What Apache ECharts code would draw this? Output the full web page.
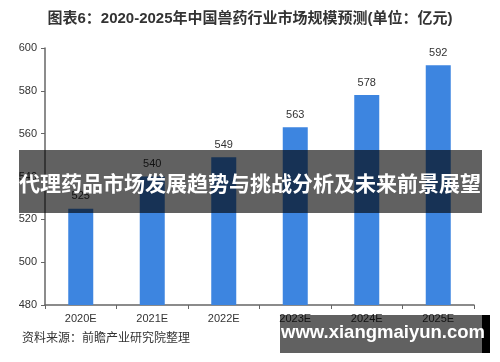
<!DOCTYPE html>
<html><head><meta charset="utf-8">
<script src="https://cdn.jsdelivr.net/npm/echarts@6/dist/echarts.min.js"></script>
<style>html,body{margin:0;padding:0;background:#fff}#c{width:500px;height:362px}</style>
</head><body><div id="c"></div>
<script>
const categories = ['2020E','2021E','2022E','2023E','2024E','2025E'];
const values = [525, 540, 549, 563, 578, 592];
const yTicks = {min: 480, max: 600, interval: 20};
const titleText = '图表6：2020-2025年中国兽药行业市场规模预测(单位：亿元)';
const sourceText = '资料来源：前瞻产业研究院整理';
const bannerText = '代理药品市场发展趋势与挑战分析及未来前景展望';
const siteText = 'www.xiangmaiyun.com';

const chart = echarts.init(document.getElementById('c'));
const FONT = '"Liberation Sans", Arial, "Noto Sans CJK SC", sans-serif';
chart.setOption({
  animation: false,
  backgroundColor: '#fff',
  textStyle: {fontFamily: FONT},
  title: {
    text: titleText, left: 'center', top: 6,
    textStyle: {fontSize: 15, fontWeight: 'bold', color: '#333', fontFamily: FONT}
  },
  grid: {left: 45, right: 26, top: 48, bottom: 57},
  xAxis: {
    type: 'category', data: categories,
    axisLine: {lineStyle: {color: '#666', width: 1.5}},
    axisTick: {show: true, lineStyle: {color: '#666'}, length: 4},
    axisLabel: {color: '#333', fontSize: 11, margin: 8}
  },
  yAxis: {
    type: 'value', min: yTicks.min, max: yTicks.max, interval: yTicks.interval,
    axisLine: {show: true, lineStyle: {color: '#666', width: 1.5}},
    axisTick: {show: true, lineStyle: {color: '#666'}, length: 4},
    splitLine: {show: false},
    axisLabel: {color: '#333', fontSize: 11, margin: 8}
  },
  series: [{
    type: 'bar', data: values, barWidth: 25,
    itemStyle: {color: '#3d85e0'},
    label: {show: true, position: 'top', color: '#333', fontSize: 11, distance: 7}
  }],
  graphic: [
    {type: 'text', left: 22, top: 333, z: 50,
     style: {text: sourceText, fontSize: 12, fill: '#333', fontFamily: FONT}},
    {type: 'rect', z: 100, shape: {x: 19, y: 150, width: 463, height: 63},
     style: {fill: 'rgba(0,0,0,0.62)'}},
    {type: 'text', z: 101, x: 250, y: 183,
     style: {text: bannerText, fontSize: 21, fontWeight: 'bold', fill: '#fff',
             align: 'center', verticalAlign: 'middle', fontFamily: '"Noto Sans CJK SC", sans-serif'}},
    {type: 'rect', z: 100, shape: {x: 280, y: 315, width: 202, height: 38},
     style: {fill: 'rgba(0,0,0,0.62)'}},
    {type: 'rect', z: 100, shape: {x: 482, y: 315, width: 8, height: 38},
     style: {fill: '#000'}},
    {type: 'text', z: 101, x: 383, y: 333,
     style: {text: siteText, fontSize: 18.5, fontWeight: 'bold', fill: '#fff',
             align: 'center', verticalAlign: 'middle', fontFamily: '"Liberation Sans", Arial, sans-serif'}}
  ]
});
</script></body></html>
